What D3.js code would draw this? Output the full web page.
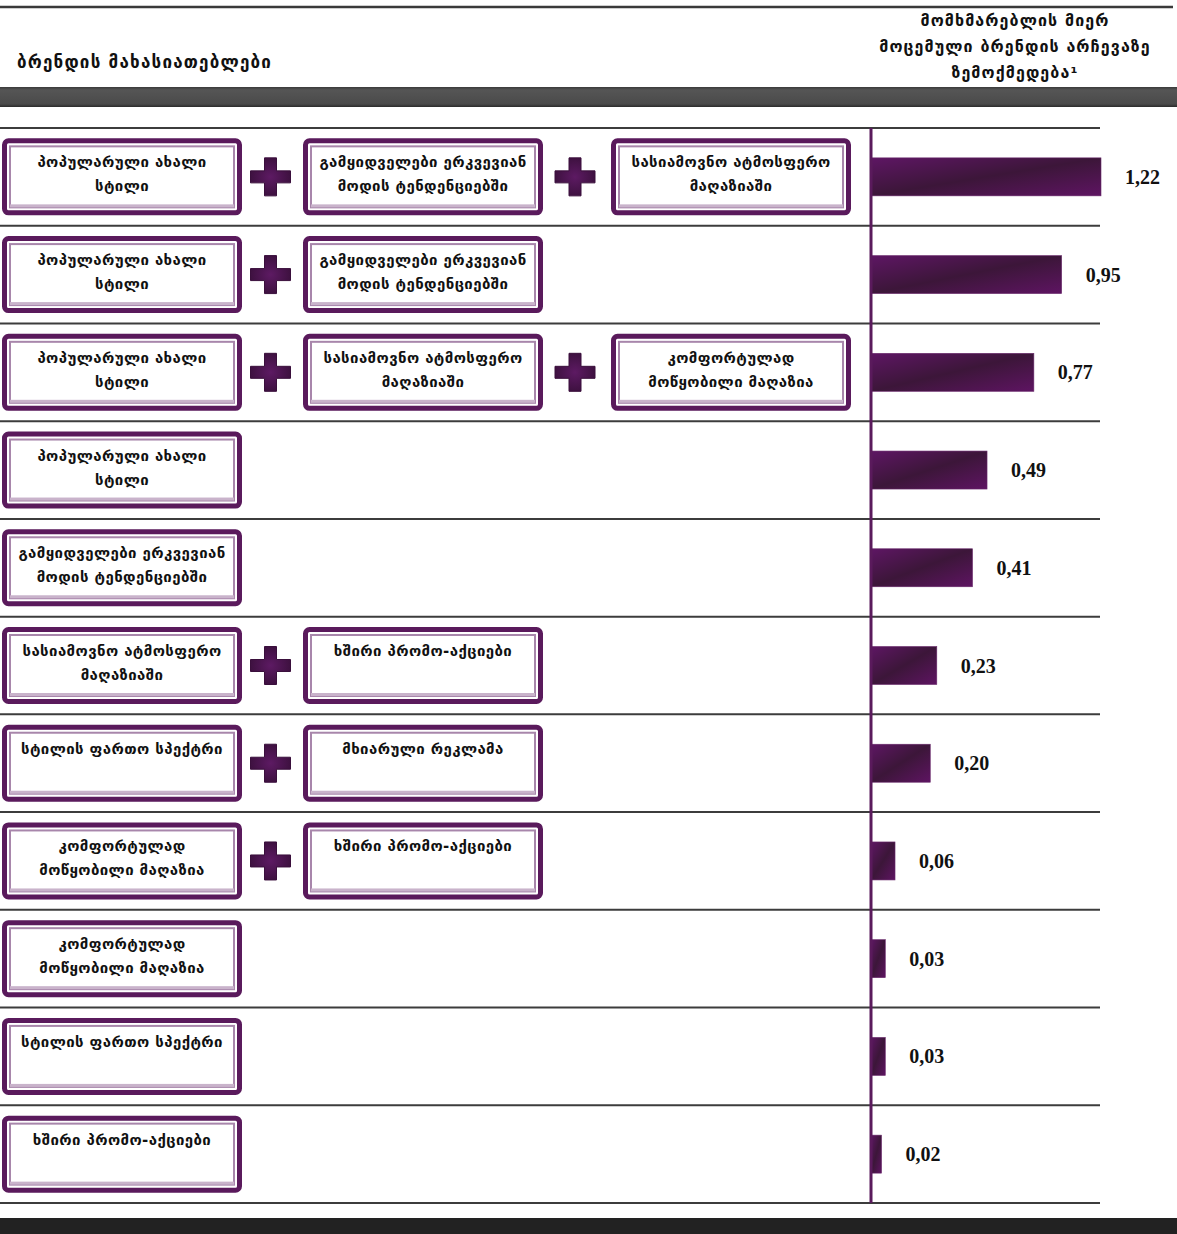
<!DOCTYPE html>
<html>
<head>
<meta charset="utf-8">
<script src="https://cdn.jsdelivr.net/npm/d3@7"></script>
<style>
  html, body { margin: 0; padding: 0; background: #fff; }
  svg { display: block; }
</style>
</head>
<body>
<div id="chart"></div>
<script>
// Brand characteristics (single and combined) and their impact on brand choice
const factorNames = [
  "პოპულარული ახალი\nსტილი",
  "გამყიდველები ერკვევიან\nმოდის ტენდენციებში",
  "სასიამოვნო ატმოსფერო\nმაღაზიაში",
  "კომფორტულად\nმოწყობილი მაღაზია",
  "ხშირი პრომო-აქციები",
  "სტილის ფართო სპექტრი",
  "მხიარული რეკლამა"
];

// each row lists the indices of the combined factors
const rowFactors = [
  [0, 1, 2],
  [0, 1],
  [0, 2, 3],
  [0],
  [1],
  [2, 4],
  [5, 6],
  [3, 4],
  [3],
  [5],
  [4]
];

const impactValues = [1.22, 0.95, 0.77, 0.49, 0.41, 0.23, 0.20, 0.06, 0.03, 0.03, 0.02];

const headerLeft = "ბრენდის მახასიათებლები";
const headerRight = ["მომხმარებლის მიერ", "მოცემული ბრენდის არჩევაზე", "ზემოქმედება¹"];

// ---- layout ----
const W = 1177, H = 1234;
const PURPLE = "#5a1a5c";
const GEO_FONT = "'DejaVu Sans', sans-serif";
const NUM_FONT = "'Liberation Serif', serif";

const svg = d3.select("#chart").append("svg")
  .attr("width", W).attr("height", H)
  .attr("viewBox", `0 0 ${W} ${H}`);

const defs = svg.append("defs");

const barGrad = defs.append("linearGradient")
  .attr("id", "barGrad").attr("x1", "0").attr("y1", "0").attr("x2", "1").attr("y2", "1");
barGrad.append("stop").attr("offset", "0%").attr("stop-color", "#5e1664");
barGrad.append("stop").attr("offset", "50%").attr("stop-color", "#3c1639");
barGrad.append("stop").attr("offset", "100%").attr("stop-color", "#5e1462");

const plusGrad = defs.append("radialGradient").attr("id", "plusGrad");
plusGrad.append("stop").attr("offset", "0%").attr("stop-color", "#5d1a63");
plusGrad.append("stop").attr("offset", "100%").attr("stop-color", "#3e1140");

const bandGrad = defs.append("linearGradient")
  .attr("id", "bandGrad").attr("x1", "0").attr("y1", "0").attr("x2", "0").attr("y2", "1");
bandGrad.append("stop").attr("offset", "0%").attr("stop-color", "#3a3a3a");
bandGrad.append("stop").attr("offset", "15%").attr("stop-color", "#555");
bandGrad.append("stop").attr("offset", "85%").attr("stop-color", "#4a4a4a");
bandGrad.append("stop").attr("offset", "100%").attr("stop-color", "#2a2a2a");

// ---- header ----
svg.append("line")
  .attr("x1", 0).attr("x2", 1173).attr("y1", 7).attr("y2", 7)
  .attr("stroke", "#3a3a3a").attr("stroke-width", 2.5);

svg.append("text")
  .attr("x", 17).attr("y", 68)
  .attr("font-family", GEO_FONT).attr("font-weight", "bold")
  .attr("font-size", 17).attr("letter-spacing", 1.2).attr("fill", "#111")
  .text(headerLeft);

svg.append("g").selectAll("text").data(headerRight).join("text")
  .attr("x", 1015).attr("y", (d, i) => 26 + i * 26)
  .attr("text-anchor", "middle")
  .attr("font-family", GEO_FONT).attr("font-weight", "bold")
  .attr("font-size", 16).attr("letter-spacing", 1.1).attr("fill", "#111")
  .text(d => d);

svg.append("rect")
  .attr("x", 0).attr("y", 87).attr("width", W).attr("height", 20)
  .attr("fill", "url(#bandGrad)");

// ---- rows ----
const y = d3.scaleBand()
  .domain(d3.range(impactValues.length))
  .range([128, 1203]);

const axisX = 871;
const x = d3.scalePow().exponent(0.75)
  .domain([0, d3.max(impactValues)])
  .range([0, 230]);

const fmt = d3.formatLocale({ decimal: ",", thousands: " ", grouping: [3], currency: ["", ""] }).format(".2f");

// row separators
svg.append("g").selectAll("line")
  .data(d3.range(impactValues.length + 1))
  .join("line")
  .attr("x1", 0).attr("x2", 1100)
  .attr("y1", i => i < impactValues.length ? y(i) : y.range()[1])
  .attr("y2", i => i < impactValues.length ? y(i) : y.range()[1])
  .attr("stroke", "#3c3c3c").attr("stroke-width", 2);

const COL_X = [2, 303, 611];
const BOX_W = 240, BOX_H = 77;

const rows = svg.append("g").selectAll("g.row")
  .data(rowFactors)
  .join("g").attr("class", "row")
  .attr("transform", (d, i) => `translate(0,${y(i) + y.bandwidth() / 2})`);

// factor boxes
const boxes = rows.selectAll("g.box")
  .data(d => d.map((f, j) => ({ f, j })))
  .join("g").attr("class", "box")
  .attr("transform", d => `translate(${COL_X[d.j]},${-BOX_H / 2})`);

boxes.append("rect")
  .attr("x", 2.5).attr("y", 2.5)
  .attr("width", BOX_W - 5).attr("height", BOX_H - 5)
  .attr("rx", 4)
  .attr("fill", "#fff")
  .attr("stroke", PURPLE).attr("stroke-width", 5);

boxes.append("rect")
  .attr("x", 8).attr("y", 8)
  .attr("width", BOX_W - 16).attr("height", BOX_H - 16)
  .attr("fill", "none")
  .attr("stroke", "#a886ab").attr("stroke-width", 2);

boxes.append("rect")
  .attr("x", 8).attr("y", BOX_H - 11)
  .attr("width", BOX_W - 16).attr("height", 3)
  .attr("fill", "#c9b3cb");

boxes.append("text")
  .attr("font-family", GEO_FONT).attr("font-weight", "bold")
  .attr("font-size", 15).attr("letter-spacing", 0.4).attr("fill", "#111")
  .attr("text-anchor", "middle")
  .selectAll("tspan")
  .data(d => factorNames[d.f].split("\n"))
  .join("tspan")
  .attr("x", BOX_W / 2)
  .attr("y", (d, i) => 29 + i * 24)
  .text(d => d);

// plus signs between combined factors
const plusPath = "M-6,-19H6V-6H20V6H6V19H-6V6H-20V-6H-6Z";
rows.selectAll("path.plus")
  .data(d => d3.range(d.length - 1))
  .join("path").attr("class", "plus")
  .attr("transform", j => `translate(${(COL_X[j] + BOX_W + COL_X[j + 1]) / 2 - 2},0)`)
  .attr("d", plusPath)
  .attr("fill", "url(#plusGrad)")
  .attr("stroke", "#3a0f3c").attr("stroke-width", 1);

// impact bars
const BAR_H = 38;
rows.append("rect")
  .attr("x", axisX)
  .attr("y", -BAR_H / 2)
  .attr("width", (d, i) => x(impactValues[i]))
  .attr("height", BAR_H)
  .attr("fill", "url(#barGrad)")
  .attr("stroke", "#6a2a6c").attr("stroke-width", 0.6);

rows.append("text")
  .attr("x", (d, i) => axisX + x(impactValues[i]) + 24)
  .attr("y", 7)
  .attr("font-family", NUM_FONT).attr("font-weight", "bold")
  .attr("font-size", 20).attr("fill", "#111")
  .text((d, i) => fmt(impactValues[i]));

// vertical axis
svg.append("line")
  .attr("x1", axisX).attr("x2", axisX)
  .attr("y1", y.range()[0]).attr("y2", y.range()[1])
  .attr("stroke", PURPLE).attr("stroke-width", 3);

// bottom band
svg.append("rect")
  .attr("x", 0).attr("y", 1218).attr("width", W).attr("height", H - 1218)
  .attr("fill", "#222");
</script>
</body>
</html>
